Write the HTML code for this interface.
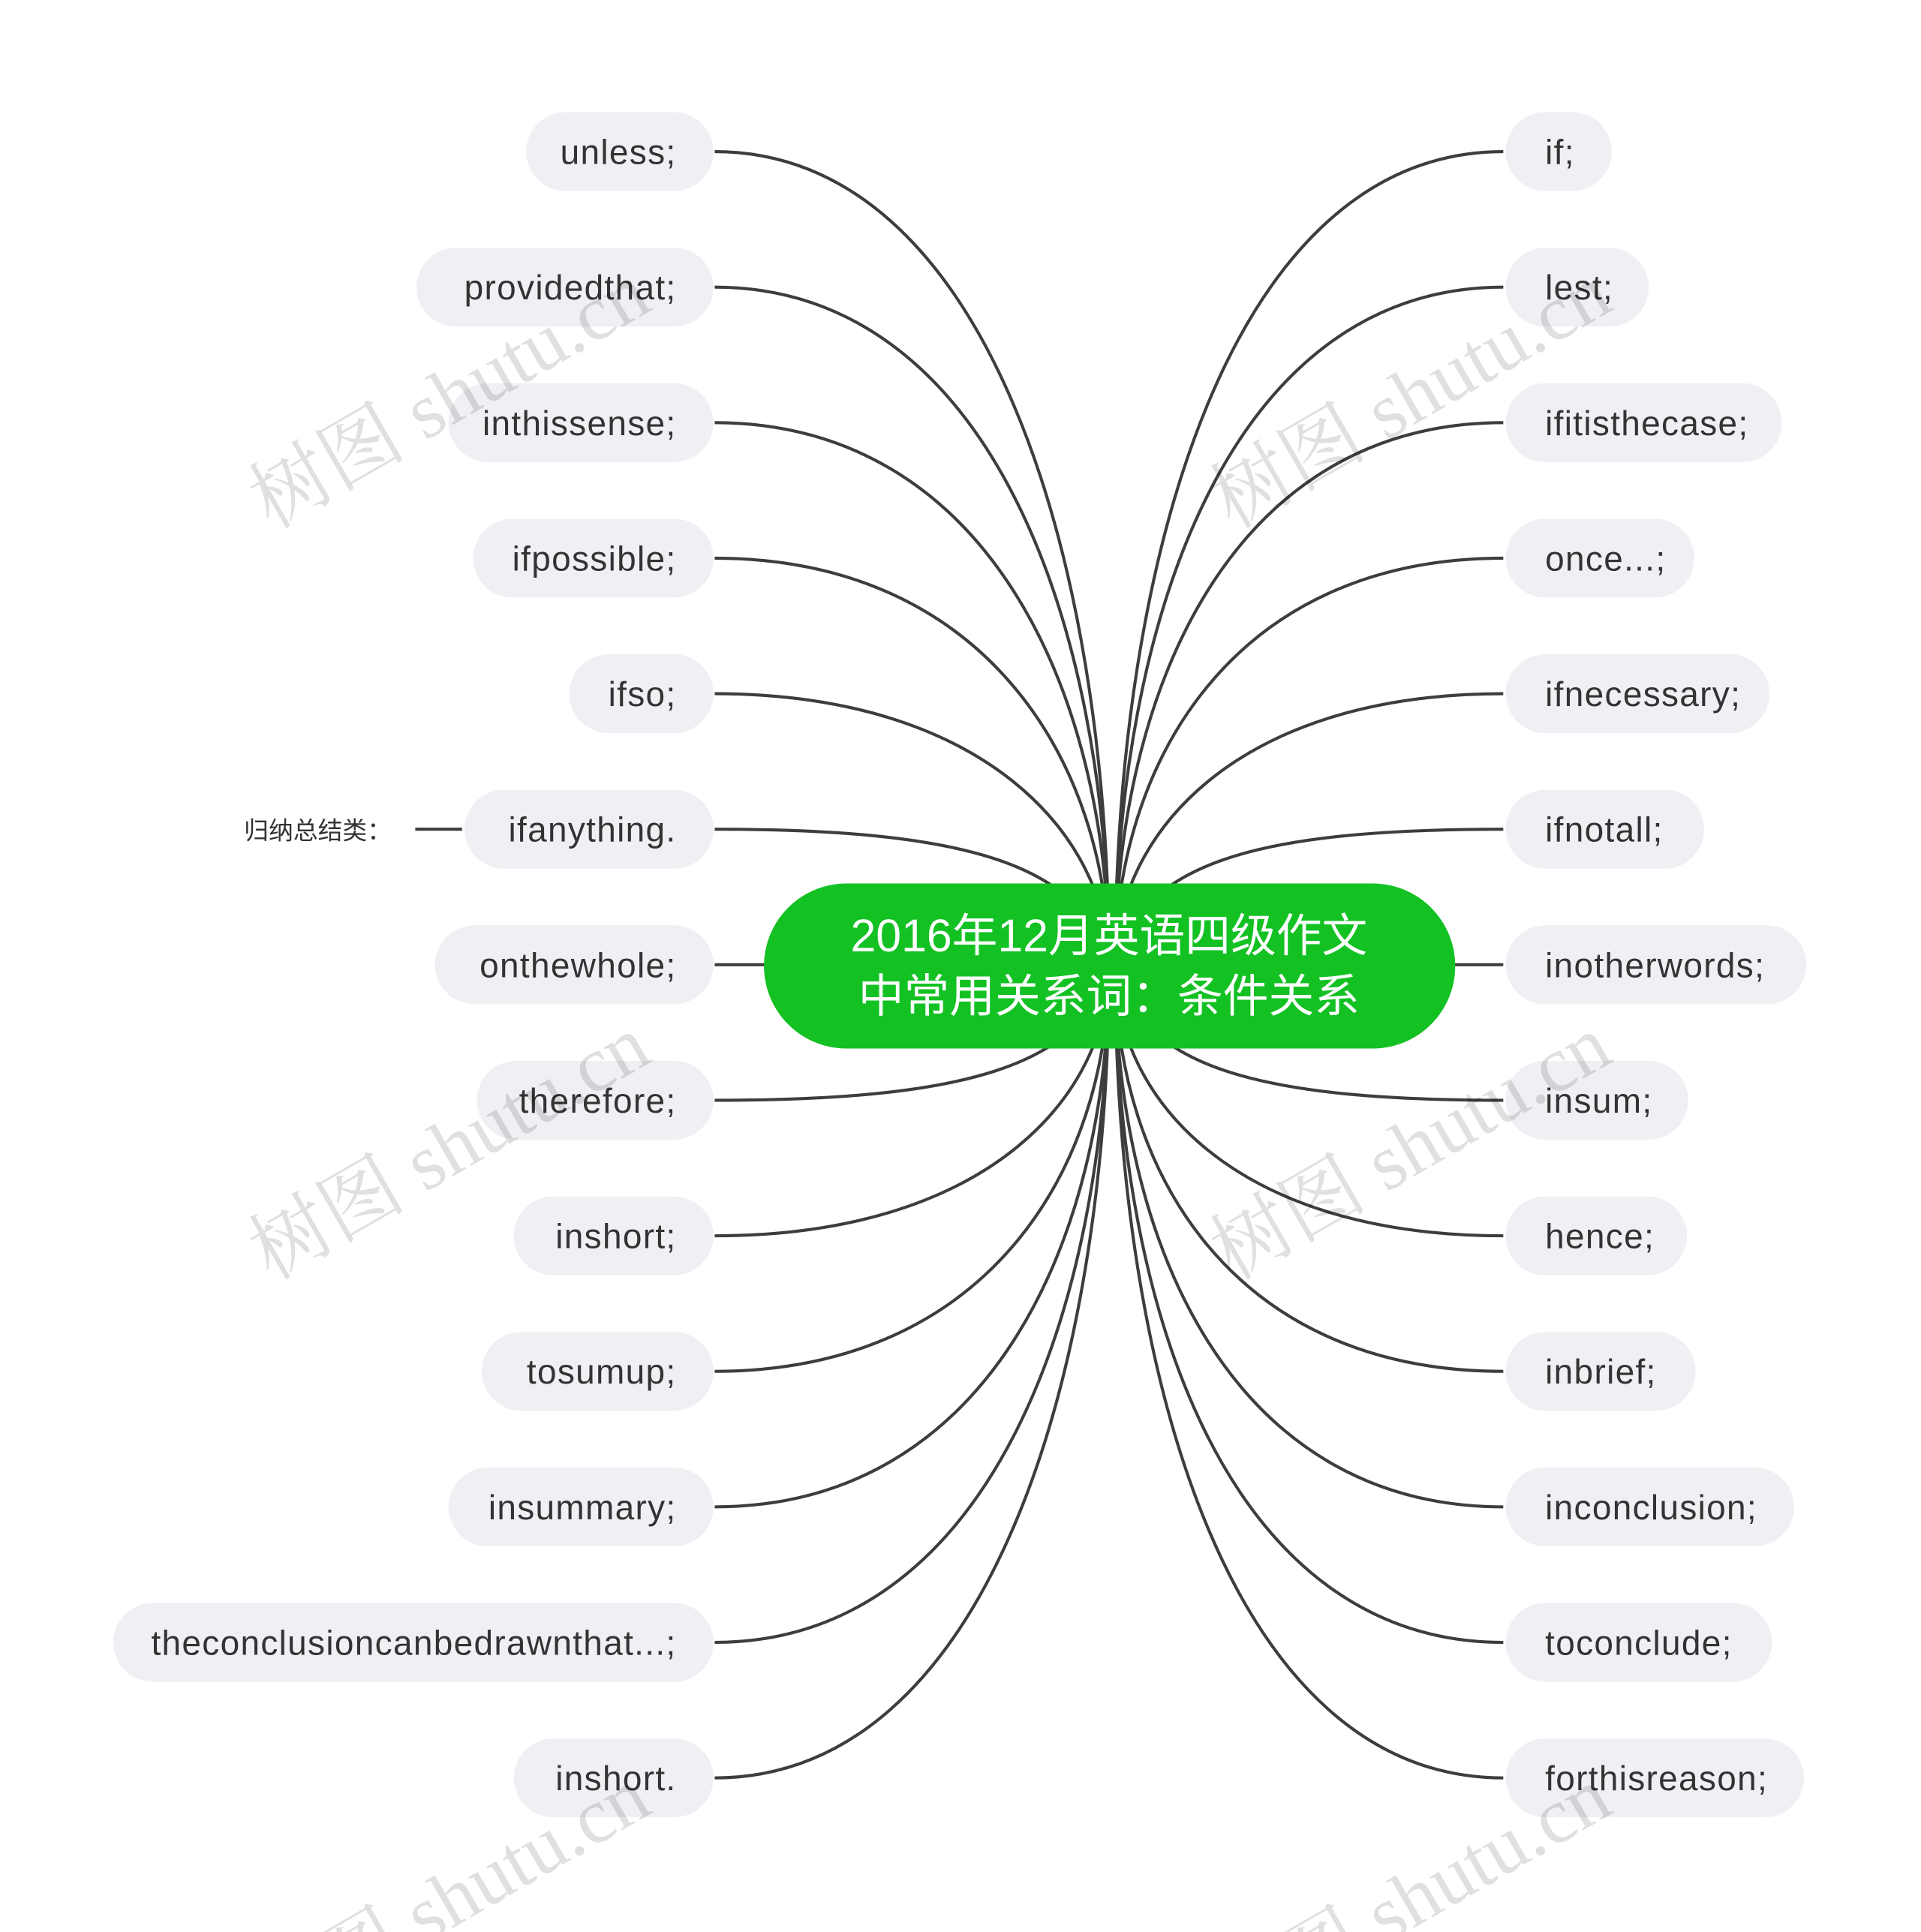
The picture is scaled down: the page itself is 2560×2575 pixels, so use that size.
<!DOCTYPE html>
<html><head><meta charset="utf-8"><style>
html,body{margin:0;padding:0;background:#fff;overflow:hidden;width:2560px;height:2575px;}
svg{display:block;}
text{font-family:"Liberation Sans","Noto Sans CJK SC",sans-serif;}
</style></head><body>
<svg width="2560" height="2575" viewBox="0 0 1559 1568" xmlns="http://www.w3.org/2000/svg" overflow="hidden">
<rect width="1568" height="1577" fill="#fff"/>
<g fill="none" stroke="#3d3d3d" stroke-width="2.5">
<path d="M580,123 C800,123 900,450 900,784"/>
<path d="M580,233 C800,233 900,500 900,784"/>
<path d="M580,343 C800,343 900,560 900,784"/>
<path d="M580,453 C800,453 900,620 900,784"/>
<path d="M580,563 C800,563 900,680 900,784"/>
<path d="M580,673 C780,673 880,700 900,784"/>
<path d="M580,783 L640,783"/>
<path d="M580,893 C780,893 880,866 900,784"/>
<path d="M580,1003 C800,1003 900,890 900,784"/>
<path d="M580,1113 C800,1113 900,950 900,784"/>
<path d="M580,1223 C800,1223 900,1010 900,784"/>
<path d="M580,1333 C800,1333 900,1070 900,784"/>
<path d="M580,1443 C800,1443 900,1120 900,784"/>
<path d="M1220,123 C1000,123 905,450 905,784"/>
<path d="M1220,233 C1000,233 905,500 905,784"/>
<path d="M1220,343 C1000,343 905,560 905,784"/>
<path d="M1220,453 C1000,453 905,620 905,784"/>
<path d="M1220,563 C1000,563 905,680 905,784"/>
<path d="M1220,673 C1020,673 925,700 905,784"/>
<path d="M1220,783 L1160,783"/>
<path d="M1220,893 C1020,893 925,866 905,784"/>
<path d="M1220,1003 C1000,1003 905,890 905,784"/>
<path d="M1220,1113 C1000,1113 905,950 905,784"/>
<path d="M1220,1223 C1000,1223 905,1010 905,784"/>
<path d="M1220,1333 C1000,1333 905,1070 905,784"/>
<path d="M1220,1443 C1000,1443 905,1120 905,784"/>
<path d="M337,673 L375,673"/>
</g>
<rect x="620" y="717" width="561" height="134" rx="67" fill="#13c123"/>
<text x="900" y="772" font-size="37" fill="#fff" text-anchor="middle">2016年12月英语四级作文</text>
<text x="900" y="821" font-size="37" fill="#fff" text-anchor="middle">中常用关系词：条件关系</text>
<g fill="#eef0f3">
<rect x="427" y="91" width="152" height="64" rx="32"/>
<rect x="338" y="201" width="241" height="64" rx="32"/>
<rect x="364" y="311" width="215" height="64" rx="32"/>
<rect x="384" y="421" width="195" height="64" rx="32"/>
<rect x="462" y="531" width="117" height="64" rx="32"/>
<rect x="377" y="641" width="202" height="64" rx="32"/>
<rect x="353" y="751" width="226" height="64" rx="32"/>
<rect x="387" y="861" width="192" height="64" rx="32"/>
<rect x="417" y="971" width="162" height="64" rx="32"/>
<rect x="391" y="1081" width="188" height="64" rx="32"/>
<rect x="364" y="1191" width="215" height="64" rx="32"/>
<rect x="92" y="1301" width="487" height="64" rx="32"/>
<rect x="417" y="1411" width="162" height="64" rx="32"/>
<rect x="1222" y="91" width="86" height="64" rx="32"/>
<rect x="1222" y="201" width="116" height="64" rx="32"/>
<rect x="1222" y="311" width="224" height="64" rx="32"/>
<rect x="1222" y="421" width="153" height="64" rx="32"/>
<rect x="1222" y="531" width="214" height="64" rx="32"/>
<rect x="1222" y="641" width="161" height="64" rx="32"/>
<rect x="1222" y="751" width="244" height="64" rx="32"/>
<rect x="1222" y="861" width="148" height="64" rx="32"/>
<rect x="1222" y="971" width="147" height="64" rx="32"/>
<rect x="1222" y="1081" width="154" height="64" rx="32"/>
<rect x="1222" y="1191" width="234" height="64" rx="32"/>
<rect x="1222" y="1301" width="216" height="64" rx="32"/>
<rect x="1222" y="1411" width="242" height="64" rx="32"/>
</g>
<g font-size="28" fill="#333" text-anchor="end" letter-spacing="0.8">
<text x="549" y="133">unless;</text>
<text x="549" y="243">providedthat;</text>
<text x="549" y="353">inthissense;</text>
<text x="549" y="463">ifpossible;</text>
<text x="549" y="573">ifso;</text>
<text x="549" y="683">ifanything.</text>
<text x="549" y="793">onthewhole;</text>
<text x="549" y="903">therefore;</text>
<text x="549" y="1013">inshort;</text>
<text x="549" y="1123">tosumup;</text>
<text x="549" y="1233">insummary;</text>
<text x="549" y="1343">theconclusioncanbedrawnthat...;</text>
<text x="549" y="1453">inshort.</text>
</g>
<g font-size="28" fill="#333" letter-spacing="0.8">
<text x="1254" y="133">if;</text>
<text x="1254" y="243">lest;</text>
<text x="1254" y="353">ifitisthecase;</text>
<text x="1254" y="463">once...;</text>
<text x="1254" y="573">ifnecessary;</text>
<text x="1254" y="683">ifnotall;</text>
<text x="1254" y="793">inotherwords;</text>
<text x="1254" y="903">insum;</text>
<text x="1254" y="1013">hence;</text>
<text x="1254" y="1123">inbrief;</text>
<text x="1254" y="1233">inconclusion;</text>
<text x="1254" y="1343">toconclude;</text>
<text x="1254" y="1453">forthisreason;</text>
</g>
<text x="198" y="681" font-size="20" fill="#333">归纳总结类：</text>
<g font-size="64" fill="#000" fill-opacity="0.12">
<text transform="translate(220,430) rotate(-30)" style="font-family:'Liberation Serif','Noto Serif CJK SC',serif">树图 shutu.cn</text>
<text transform="translate(1000,430) rotate(-30)" style="font-family:'Liberation Serif','Noto Serif CJK SC',serif">树图 shutu.cn</text>
<text transform="translate(220,1040) rotate(-30)" style="font-family:'Liberation Serif','Noto Serif CJK SC',serif">树图 shutu.cn</text>
<text transform="translate(1000,1040) rotate(-30)" style="font-family:'Liberation Serif','Noto Serif CJK SC',serif">树图 shutu.cn</text>
<text transform="translate(220,1650) rotate(-30)" style="font-family:'Liberation Serif','Noto Serif CJK SC',serif">树图 shutu.cn</text>
<text transform="translate(1000,1650) rotate(-30)" style="font-family:'Liberation Serif','Noto Serif CJK SC',serif">树图 shutu.cn</text>
</g>
</svg>
</body></html>
